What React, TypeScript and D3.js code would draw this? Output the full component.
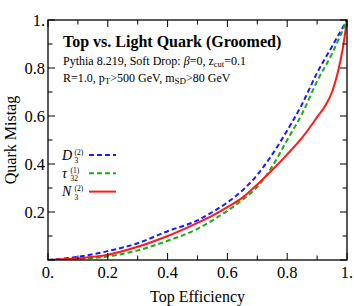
import React, { useEffect, useRef } from "react";
import * as d3 from "d3";

// values
const d3Eff = [0, 0.1, 0.2, 0.3, 0.4, 0.5, 0.55, 0.6, 0.65, 0.7, 0.75, 0.8, 0.85, 0.9, 0.95, 1];
const d3Mistag = [0, 0.013, 0.037, 0.07, 0.12, 0.165, 0.2, 0.24, 0.29, 0.355, 0.44, 0.54, 0.65, 0.78, 0.89, 1];
const tauEff = [0, 0.1, 0.2, 0.3, 0.4, 0.5, 0.55, 0.6, 0.65, 0.7, 0.75, 0.8, 0.85, 0.9, 0.95, 1];
const tauMistag = [0, 0.005, 0.015, 0.04, 0.08, 0.13, 0.165, 0.205, 0.25, 0.305, 0.39, 0.5, 0.61, 0.745, 0.86, 1];
const n3Eff = [0, 0.1, 0.2, 0.3, 0.4, 0.5, 0.55, 0.6, 0.65, 0.7, 0.75, 0.8, 0.85, 0.9, 0.93, 0.95, 0.97, 0.985, 1];
const n3Mistag = [0, 0.007, 0.022, 0.055, 0.1, 0.155, 0.185, 0.22, 0.26, 0.315, 0.375, 0.44, 0.51, 0.595, 0.648, 0.7, 0.785, 0.875, 1];

const xTicks = [0, 0.2, 0.4, 0.6, 0.8, 1];
const xTickLabels = ["0.", "0.2", "0.4", "0.6", "0.8", "1."];
const yTicks = [0.2, 0.4, 0.6, 0.8, 1];
const yTickLabels = ["0.2", "0.4", "0.6", "0.8", "1."];
const minorTicks = [0.1, 0.3, 0.5, 0.7, 0.9];

const series = [
  { name: "D", sup: "(2)", sub: "3", color: "#1a1aff", dash: "5,3", xs: d3Eff, ys: d3Mistag },
  { name: "τ", sup: "(1)", sub: "32", color: "#1aaa1a", dash: "5,3", xs: tauEff, ys: tauMistag },
  { name: "N", sup: "(2)", sub: "3", color: "#ff1a1a", dash: null, xs: n3Eff, ys: n3Mistag },
];

const App = () => {
  const ref = useRef<SVGSVGElement>(null);

  useEffect(() => {
    const width = 354;
    const height = 306;
    const margin = { top: 20, right: 7, bottom: 46, left: 48 };
    const innerWidth = width - margin.left - margin.right;
    const innerHeight = height - margin.top - margin.bottom;

    const svg = d3.select(ref.current);
    svg.selectAll("*").remove();

    const x = d3.scaleLinear().domain([0, 1]).range([0, innerWidth]);
    const y = d3.scaleLinear().domain([0, 1]).range([innerHeight, 0]);

    const g = svg.append("g").attr("transform", `translate(${margin.left},${margin.top})`);

    g.append("defs").append("clipPath").attr("id", "plotclip")
      .append("rect").attr("width", innerWidth).attr("height", innerHeight);

    const font = "'Liberation Serif', 'Times New Roman', serif";

    // curves
    const line = d3.line<[number, number]>()
      .x(d => x(d[0]))
      .y(d => y(d[1]))
      .curve(d3.curveMonotoneX);

    series.forEach(s => {
      const pts = s.xs.map((v, i) => [v, s.ys[i]] as [number, number]);
      g.append("path")
        .attr("d", line(pts))
        .attr("fill", "none")
        .attr("stroke", s.color)
        .attr("stroke-width", 2)
        .attr("stroke-dasharray", s.dash)
        .attr("clip-path", "url(#plotclip)");
    });

    // ticks on all four sides
    const major = 7;
    const minor = 4.5;
    const tk = g.append("g").attr("stroke", "#000").attr("stroke-width", 1);
    const allX = xTicks.map(v => [v, major]).concat(minorTicks.map(v => [v, minor]));
    const allY = [0].concat(yTicks).map(v => [v, major]).concat(minorTicks.map(v => [v, minor]));
    allX.forEach(([v, len]) => {
      tk.append("line").attr("x1", x(v)).attr("x2", x(v)).attr("y1", innerHeight).attr("y2", innerHeight - len);
      tk.append("line").attr("x1", x(v)).attr("x2", x(v)).attr("y1", 0).attr("y2", len);
    });
    allY.forEach(([v, len]) => {
      tk.append("line").attr("x1", 0).attr("x2", len).attr("y1", y(v)).attr("y2", y(v));
      tk.append("line").attr("x1", innerWidth).attr("x2", innerWidth - len).attr("y1", y(v)).attr("y2", y(v));
    });

    g.append("rect")
      .attr("width", innerWidth)
      .attr("height", innerHeight)
      .attr("fill", "none")
      .attr("stroke", "#000")
      .attr("stroke-width", 1.3);

    // tick labels
    xTicks.forEach((v, i) => {
      g.append("text")
        .attr("x", x(v))
        .attr("y", innerHeight + 18)
        .attr("text-anchor", "middle")
        .attr("font-family", font)
        .attr("font-size", "16.5px")
        .text(xTickLabels[i]);
    });
    yTicks.forEach((v, i) => {
      g.append("text")
        .attr("x", -3)
        .attr("y", y(v) + 5.5)
        .attr("text-anchor", "end")
        .attr("font-family", font)
        .attr("font-size", "16.5px")
        .text(yTickLabels[i]);
    });

    // axis labels
    svg.append("text")
      .attr("x", margin.left + innerWidth / 2)
      .attr("y", 302)
      .attr("text-anchor", "middle")
      .attr("font-family", font)
      .attr("font-size", "16px")
      .text("Top Efficiency");

    svg.append("text")
      .attr("transform", `translate(16,${margin.top + innerHeight / 2}) rotate(-90)`)
      .attr("text-anchor", "middle")
      .attr("font-family", font)
      .attr("font-size", "16px")
      .text("Quark Mistag");

    // annotation
    svg.append("text")
      .attr("x", 63)
      .attr("y", 47)
      .attr("font-family", font)
      .attr("font-size", "16px")
      .attr("font-weight", "bold")
      .text("Top vs. Light Quark (Groomed)");

    const l2 = svg.append("text")
      .attr("x", 63)
      .attr("y", 65)
      .attr("font-family", font)
      .attr("font-size", "12px");
    l2.append("tspan").text("Pythia 8.219, Soft Drop: ");
    l2.append("tspan").attr("font-style", "italic").text("β");
    l2.append("tspan").text("=0, z");
    l2.append("tspan").attr("font-size", "8.5px").attr("dy", 2).text("cut");
    l2.append("tspan").attr("dy", -2).text("=0.1");

    const l3 = svg.append("text")
      .attr("x", 63)
      .attr("y", 82)
      .attr("font-family", font)
      .attr("font-size", "12px");
    l3.append("tspan").text("R=1.0, p");
    l3.append("tspan").attr("font-size", "9px").attr("dy", 2).text("T");
    l3.append("tspan").attr("dy", -2).text(">500 GeV, m");
    l3.append("tspan").attr("font-size", "9px").attr("dy", 2).text("SD");
    l3.append("tspan").attr("dy", -2).text(">80 GeV");

    // legend
    series.forEach((s, i) => {
      const ly = 155 + i * 18.3;
      const lg = svg.append("g").attr("font-family", font);
      lg.append("text").attr("x", 62).attr("y", ly + 4.5).attr("font-size", "14px").attr("font-style", "italic").text(s.name);
      const off = s.name === "τ" ? 70.5 : 74.5;
      lg.append("text").attr("x", off).attr("y", ly - 0.5).attr("font-size", "7.5px").text(s.sup);
      lg.append("text").attr("x", off).attr("y", ly + 8).attr("font-size", "7.5px").text(s.sub);
      svg.append("line")
        .attr("x1", 89)
        .attr("x2", 116)
        .attr("y1", ly)
        .attr("y2", ly)
        .attr("stroke", s.color)
        .attr("stroke-width", 2)
        .attr("stroke-dasharray", s.dash);
    });
  }, []);

  return (
    <svg
      ref={ref}
      width={354}
      height={306}
      style={{ position: "absolute", left: 0, top: 0, background: "#fff" }}
    />
  );
};

export default App;
